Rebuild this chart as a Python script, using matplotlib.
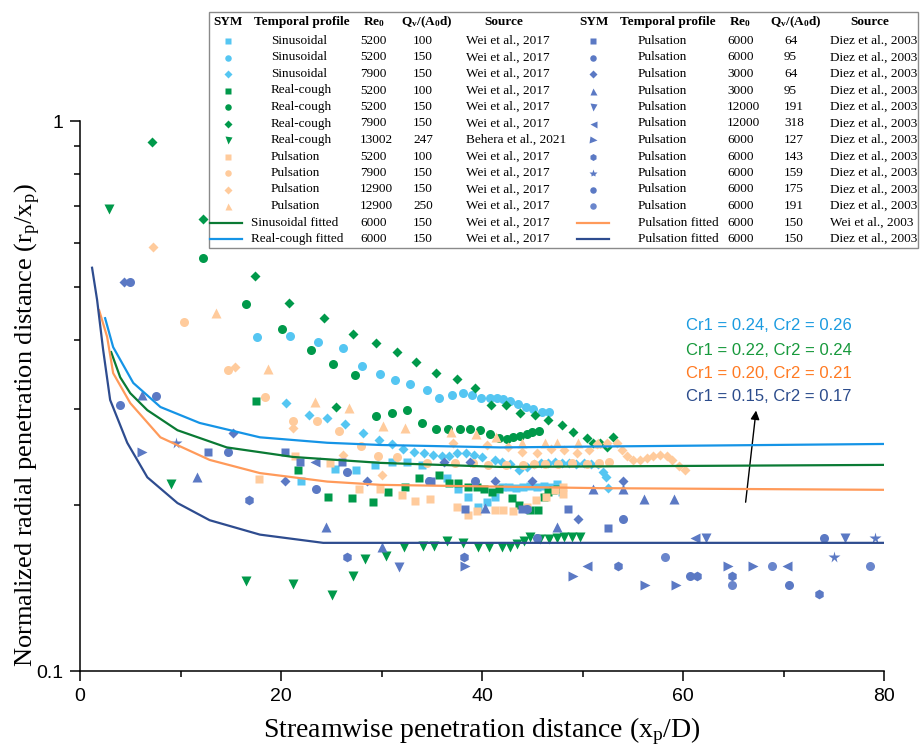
import matplotlib
matplotlib.use('Agg')
import matplotlib.pyplot as plt
from matplotlib.patches import Rectangle
from matplotlib.ticker import MultipleLocator, LogLocator, NullFormatter, FixedLocator, FixedFormatter

plt.rcParams['font.family'] = 'Liberation Sans'
plt.rcParams['mathtext.fontset'] = 'custom'
plt.rcParams['mathtext.rm'] = 'Liberation Serif'
plt.rcParams['mathtext.it'] = 'Liberation Serif:italic'
plt.rcParams['mathtext.bf'] = 'Liberation Serif:bold'

# ---- colours
c_sin = '#55C6F2'
c_rc = '#00994A'
c_pw = '#FFCB9C'
c_dz = '#5B79C4'

# ---- Wei et al. 2017, sinusoidal
sin_sq_x = [22.0, 25.4, 27.5, 29.4, 31.0, 32.5, 34.0, 36.5, 37.6, 38.6, 39.6, 40.5, 41.3, 42.0, 42.7, 43.4, 44.1, 44.8, 45.5, 46.2, 46.9, 47.5, 48.0]
sin_sq_y = [0.222, 0.233, 0.232, 0.237, 0.240, 0.240, 0.237, 0.224, 0.214, 0.207, 0.199, 0.203, 0.207, 0.216, 0.216, 0.215, 0.216, 0.217, 0.216, 0.217, 0.216, 0.219, 0.212]
sin_ci_x = [17.6, 20.9, 23.7, 26.2, 28.1, 29.9, 31.3, 32.8, 34.5, 35.7, 37.0, 38.1, 39.0, 39.9, 40.8, 41.5, 42.1, 42.8, 43.6, 44.4, 45.1, 46.0, 46.7]
sin_ci_y = [0.405, 0.407, 0.396, 0.387, 0.359, 0.347, 0.338, 0.332, 0.324, 0.314, 0.317, 0.320, 0.317, 0.314, 0.314, 0.313, 0.312, 0.310, 0.306, 0.302, 0.300, 0.296, 0.296]
sin_di_x = [20.5, 22.8, 24.6, 26.4, 28.2, 29.8, 31.0, 32.1, 33.2, 34.2, 35.1, 36.0, 36.7, 37.5, 38.4, 39.2, 40.0, 41.3, 42.0, 42.8, 43.7, 44.5, 45.2, 45.9, 46.6, 47.3, 48.0, 48.7, 49.4, 50.1, 50.8, 51.5, 52.0, 52.3, 52.5]
sin_di_y = [0.307, 0.292, 0.288, 0.281, 0.271, 0.263, 0.259, 0.253, 0.250, 0.249, 0.247, 0.246, 0.246, 0.249, 0.249, 0.247, 0.245, 0.242, 0.240, 0.238, 0.232, 0.235, 0.238, 0.239, 0.239, 0.240, 0.239, 0.239, 0.238, 0.239, 0.238, 0.238, 0.230, 0.225, 0.215]

# ---- real cough
rc_sq_x = [17.5, 21.7, 24.7, 27.1, 29.2, 30.6, 32.3, 33.7, 35.7, 36.7, 37.6, 38.6, 39.5, 40.2, 41.0, 41.7, 43.0, 43.7, 44.8, 45.6, 46.2, 46.6, 47.1, 47.5]
rc_sq_y = [0.310, 0.232, 0.207, 0.206, 0.203, 0.212, 0.216, 0.224, 0.227, 0.220, 0.220, 0.216, 0.216, 0.214, 0.212, 0.214, 0.206, 0.200, 0.196, 0.196, 0.207, 0.212, 0.213, 0.214]
rc_ci_x = [12.2, 16.5, 20.1, 23.0, 25.2, 27.4, 29.5, 31.0, 32.5, 34.0, 35.4, 36.6, 37.8, 38.8, 39.8, 40.8, 41.7, 42.5, 43.1, 43.8, 44.5, 45.0, 45.7]
rc_ci_y = [0.563, 0.465, 0.419, 0.383, 0.362, 0.345, 0.291, 0.294, 0.298, 0.283, 0.275, 0.275, 0.275, 0.275, 0.274, 0.270, 0.265, 0.264, 0.266, 0.267, 0.270, 0.272, 0.273]
rc_di_x = [7.2, 12.2, 17.4, 20.8, 24.3, 25.5, 27.2, 29.5, 31.5, 33.4, 35.4, 37.5, 39.3, 40.9, 42.4, 43.8, 45.3, 46.6, 48.0, 49.1, 50.4, 51.0, 51.7, 52.4, 53.0]
rc_di_y = [0.916, 0.664, 0.523, 0.467, 0.438, 0.302, 0.410, 0.395, 0.380, 0.365, 0.348, 0.340, 0.327, 0.305, 0.305, 0.294, 0.292, 0.286, 0.280, 0.272, 0.265, 0.260, 0.260, 0.255, 0.266]
rc_tri_x = [2.9, 9.1, 16.5, 21.2, 25.1, 27.2, 28.4, 30.4, 32.2, 34.1, 35.2, 36.5, 38.1, 39.6, 40.7, 42.0, 42.8, 43.5, 44.2, 44.8, 45.8, 46.7, 47.5, 48.2, 49.0, 49.8]
rc_tri_y = [0.692, 0.219, 0.146, 0.144, 0.1375, 0.149, 0.160, 0.162, 0.168, 0.169, 0.169, 0.172, 0.171, 0.168, 0.168, 0.168, 0.168, 0.170, 0.172, 0.1755, 0.1735, 0.174, 0.1745, 0.1755, 0.1755, 0.1755]

# ---- pulsation, Wei et al.
pw_sq_x = [17.8, 21.4, 24.9, 27.8, 29.9, 32.0, 33.3, 34.8, 37.5, 38.6, 39.5, 41.3, 42.1, 43.1, 44.5, 45.4, 46.4, 47.3, 48.1, 48.1]
pw_sq_y = [0.2235, 0.246, 0.239, 0.214, 0.214, 0.209, 0.204, 0.2055, 0.199, 0.1925, 0.195, 0.196, 0.196, 0.195, 0.199, 0.2046, 0.207, 0.2137, 0.2163, 0.210]
pw_ci_x = [10.3, 14.7, 18.4, 21.2, 23.6, 25.8, 28.0, 29.7, 31.5, 34.5, 37.3, 39.1, 40.6, 42.4, 44.1, 45.2, 46.3, 47.6, 49.0, 50.4, 51.6, 52.6]
pw_ci_y = [0.431, 0.352, 0.315, 0.285, 0.285, 0.273, 0.256, 0.246, 0.245, 0.239, 0.239, 0.239, 0.237, 0.237, 0.237, 0.238, 0.238, 0.238, 0.239, 0.238, 0.239, 0.240]
pw_di_x = [7.3, 15.4, 21.2, 26.2, 30.0, 37.1, 40.5, 42.6, 44.0, 45.5, 46.9, 48.2, 49.5, 50.6, 51.4, 52.4, 53.4, 53.9, 54.4, 55.0, 55.7, 56.4, 57.0, 57.7, 58.4, 58.9, 59.6, 60.2]
pw_di_y = [0.590, 0.357, 0.277, 0.247, 0.227, 0.260, 0.258, 0.255, 0.250, 0.249, 0.253, 0.252, 0.249, 0.252, 0.259, 0.260, 0.260, 0.252, 0.246, 0.242, 0.242, 0.244, 0.246, 0.247, 0.246, 0.242, 0.236, 0.2315]
pw_tri_x = [13.5, 18.7, 23.4, 26.8, 30.1, 32.3, 36.9, 39.4, 41.4, 44.0, 46.3, 47.5, 49.6, 51.5]
pw_tri_y = [0.447, 0.354, 0.309, 0.301, 0.279, 0.277, 0.272, 0.270, 0.266, 0.260, 0.260, 0.260, 0.260, 0.260]

# ---- pulsation, Diez et al. 2003
dz_sq_x = [12.7, 20.4, 21.9, 26.1, 34.9, 38.3, 44.0, 48.6, 52.5]
dz_sq_y = [0.250, 0.250, 0.240, 0.240, 0.2215, 0.197, 0.197, 0.197, 0.182]
dz_ci_x = [4.0, 7.6, 14.7, 23.5, 26.6, 34.7, 39.3, 44.5, 54.0]
dz_ci_y = [0.305, 0.316, 0.250, 0.214, 0.230, 0.2215, 0.2215, 0.197, 0.189]
dz_di_x = [4.4, 15.2, 20.4, 28.6, 36.2, 38.8, 41.3, 45.0, 49.6, 54.0]
dz_di_y = [0.51, 0.271, 0.2215, 0.2215, 0.240, 0.240, 0.2215, 0.2215, 0.189, 0.2215]
dz_tu_x = [6.2, 11.6, 24.5, 30.0, 40.3, 47.5, 51.0, 54.0, 56.1, 59.1]
dz_tu_y = [0.3175, 0.2253, 0.1827, 0.168, 0.198, 0.1827, 0.2143, 0.2143, 0.2055, 0.2055]
dz_td_x = [31.7, 62.3, 76.1]
dz_td_y = [0.1546, 0.1745, 0.1745]
dz_tl_x = [23.4, 50.4, 61.2, 70.3]
dz_tl_y = [0.240, 0.155, 0.1745, 0.155]
dz_tr_x = [6.2, 38.3, 49.1, 56.2, 59.3, 64.5, 67.0]
dz_tr_y = [0.2503, 0.155, 0.1488, 0.1434, 0.1434, 0.155, 0.155]
dz_hx_x = [16.8, 26.6, 38.2, 53.5, 61.4, 64.9, 73.5]
dz_hx_y = [0.2046, 0.161, 0.161, 0.155, 0.1488, 0.1488, 0.138]
dz_st_x = [9.6, 75.0, 79.1]
dz_st_y = [0.260, 0.161, 0.1745]
dz_c175_x = [5.0, 45.5, 60.7, 70.5, 74.0]
dz_c175_y = [0.51, 0.1745, 0.1488, 0.1434, 0.1745]
dz_c191_x = [58.2, 64.9, 68.9, 78.6]
dz_c191_y = [0.161, 0.1434, 0.155, 0.155]

# ---- fitted curves
fit_sin_x = [3.1, 4.0, 5.0, 6.7, 9.7, 14.6, 21.2, 29.9, 41.8, 80]
fit_sin_y = [0.380, 0.342, 0.320, 0.298, 0.274, 0.255, 0.245, 0.239, 0.235, 0.237]
fit_rc_x = [2.5, 3.3, 5.3, 8.0, 11.9, 17.9, 24.6, 29.9, 41.8, 80]
fit_rc_y = [0.438, 0.388, 0.334, 0.302, 0.2825, 0.266, 0.260, 0.2576, 0.255, 0.2587]
fit_pw_x = [1.9, 2.7, 3.3, 5.0, 8.0, 12.9, 17.9, 24.6, 29.9, 51.7, 80]
fit_pw_y = [0.453, 0.405, 0.348, 0.307, 0.266, 0.242, 0.229, 0.221, 0.218, 0.215, 0.2135]
fit_dz_x = [1.2, 1.7, 2.3, 3.0, 4.7, 6.7, 9.7, 12.9, 17.9, 24.2, 80]
fit_dz_y = [0.541, 0.473, 0.384, 0.311, 0.260, 0.225, 0.202, 0.188, 0.177, 0.171, 0.171]

cr_labels = ['Cr1 = 0.24, Cr2 = 0.26', 'Cr1 = 0.22, Cr2 = 0.24',
             'Cr1 = 0.20, Cr2 = 0.21', 'Cr1 = 0.15, Cr2 = 0.17']
cr_y = [0.424, 0.383, 0.348, 0.315]
cr_colors = ['#1B9BE0', '#17993C', '#FF7A22', '#2C4C8C']

# ---- table contents
left_prof = ['Sinusoidal', 'Sinusoidal', 'Sinusoidal', 'Real-cough', 'Real-cough', 'Real-cough', 'Real-cough',
             'Pulsation', 'Pulsation', 'Pulsation', 'Pulsation', 'Sinusoidal fitted', 'Real-cough fitted']
left_re = ['5200', '5200', '7900', '5200', '5200', '7900', '13002', '5200', '7900', '12900', '12900', '6000', '6000']
left_q = ['100', '150', '150', '100', '150', '150', '247', '100', '150', '150', '250', '150', '150']
left_src = ['Wei et al., 2017'] * 6 + ['Behera et al., 2021'] + ['Wei et al., 2017'] * 6
right_prof = ['Pulsation'] * 11 + ['Pulsation fitted', 'Pulsation fitted']
right_re = ['6000', '6000', '3000', '3000', '12000', '12000', '6000', '6000', '6000', '6000', '6000', '6000', '6000']
right_q = ['64', '95', '64', '95', '191', '318', '127', '143', '159', '175', '191', '150', '150']
right_src = ['Diez et al., 2003'] * 11 + ['Wei et al., 2003', 'Diez et al., 2003']

ms = {'s': 6, 'o': 6.5, 'D': 5.2, 'v': 7, '^': 7, '<': 7, '>': 7, 'h': 7, '*': 8.5}
left_series = [
    (sin_sq_x, sin_sq_y, 's', c_sin), (sin_ci_x, sin_ci_y, 'o', c_sin), (sin_di_x, sin_di_y, 'D', c_sin),
    (rc_sq_x, rc_sq_y, 's', c_rc), (rc_ci_x, rc_ci_y, 'o', c_rc), (rc_di_x, rc_di_y, 'D', c_rc),
    (rc_tri_x, rc_tri_y, 'v', c_rc),
    (pw_sq_x, pw_sq_y, 's', c_pw), (pw_ci_x, pw_ci_y, 'o', c_pw), (pw_di_x, pw_di_y, 'D', c_pw),
    (pw_tri_x, pw_tri_y, '^', c_pw)]
right_series = [
    (dz_sq_x, dz_sq_y, 's', c_dz), (dz_ci_x, dz_ci_y, 'o', c_dz), (dz_di_x, dz_di_y, 'D', c_dz),
    (dz_tu_x, dz_tu_y, '^', c_dz), (dz_td_x, dz_td_y, 'v', c_dz), (dz_tl_x, dz_tl_y, '<', c_dz),
    (dz_tr_x, dz_tr_y, '>', c_dz), (dz_hx_x, dz_hx_y, 'h', c_dz), (dz_st_x, dz_st_y, '*', c_dz),
    (dz_c175_x, dz_c175_y, 'o', c_dz), (dz_c191_x, dz_c191_y, 'o', '#6A86CC')]
fits = [(fit_sin_x, fit_sin_y, '#0A7A34'), (fit_rc_x, fit_rc_y, '#1594E6'),
        (fit_pw_x, fit_pw_y, '#FF9A5A'), (fit_dz_x, fit_dz_y, '#2E4C8F')]

fig = plt.figure(figsize=(9.21, 7.55), dpi=100)
ax = fig.add_axes([80 / 921, 1 - 671 / 755, 804 / 921, 550 / 755])

for xs, ys, mk, col in left_series + right_series:
    ax.plot(xs, ys, linestyle='none', marker=mk, ms=ms[mk], color=col, mec='none', zorder=3)

for xs, ys, col in fits:
    ax.plot(xs, ys, color=col, lw=1.6, zorder=4)

for lab, yy, col in zip(cr_labels, cr_y, cr_colors):
    ax.text(60.3, yy, lab, color=col, fontsize=12, ha='left', va='center')
ax.annotate('', xy=(67.3, 0.301), xytext=(66.2, 0.2004),
            arrowprops=dict(arrowstyle='-|>', color='black', lw=1, mutation_scale=13))

ax.set_yscale('log')
ax.set_xlim(0, 80)
ax.set_ylim(0.1, 1)
ax.xaxis.set_major_locator(MultipleLocator(20))
ax.xaxis.set_minor_locator(MultipleLocator(10))
ax.yaxis.set_major_locator(FixedLocator([0.1, 1]))
ax.yaxis.set_major_formatter(FixedFormatter(['0.1', '1']))
ax.yaxis.set_minor_locator(LogLocator(base=10, subs=range(2, 10)))
ax.yaxis.set_minor_formatter(NullFormatter())
ax.spines['top'].set_visible(False)
ax.spines['right'].set_visible(False)
for s in ['left', 'bottom']:
    ax.spines[s].set_linewidth(1.1)
ax.tick_params(which='major', direction='out', length=7, width=1.1, labelsize=14, pad=5)
ax.tick_params(which='minor', direction='out', length=4, width=1.1)

fig.text(482 / 921, 1 - 737 / 755, r'Streamwise penetration distance (x$\mathregular{_p}$/D)',
         family='Liberation Serif', fontsize=20, ha='center', va='baseline')
fig.text(28 / 921, 1 - 425 / 755, r'Normalized radial penetration distance (r$\mathregular{_p}$/x$\mathregular{_p}$)',
         family='Liberation Serif', fontsize=19, ha='center', va='center', rotation=90)

# ---- table (overlay in pixel units)
tax = fig.add_axes([0, 0, 1, 1], zorder=5)
tax.set_xlim(0, 921)
tax.set_ylim(755, 0)
tax.axis('off')
tax.add_patch(Rectangle((209, 12), 709, 236, facecolor='white', edgecolor='#8A8A8A', lw=1))

tfont = dict(family='Liberation Serif', fontsize=9.5, va='center')
hdr = dict(family='Liberation Serif', fontsize=9.5, va='center', ha='center', fontweight='bold')
head_y = 22
rows_y = [41 + 16.5 * i for i in range(13)]
for cols in [(228, 302, 374, 427, 504), (594, 668, 740, 796, 870)]:
    tax.text(cols[0], head_y, 'SYM', **hdr)
    tax.text(cols[1], head_y, 'Temporal profile', **hdr)
    tax.text(cols[2], head_y, r'Re$\mathregular{_0}$', **hdr)
    tax.text(cols[3], head_y, r'Q$\mathregular{_v}$/(A$\mathregular{_0}$d)', **hdr)
    tax.text(cols[4], head_y, 'Source', **hdr)

for i, (p, r, q, s) in enumerate(zip(left_prof, left_re, left_q, left_src)):
    y = rows_y[i]
    if i < 11:
        xs, ys, mk, col = left_series[i]
        tax.plot(228, y, marker=mk, ms=ms[mk] * 0.72, color=col, mec='none')
        tax.text(271, y, p, ha='left', **tfont)
    else:
        tax.plot([210, 242], [y, y], color=fits[i - 11][2], lw=1.6)
        tax.text(251, y, p, ha='left', **tfont)
    tax.text(360, y, r, ha='left', **tfont)
    tax.text(413, y, q, ha='left', **tfont)
    tax.text(466, y, s, ha='left', **tfont)

for i, (p, r, q, s) in enumerate(zip(right_prof, right_re, right_q, right_src)):
    y = rows_y[i]
    if i < 11:
        xs, ys, mk, col = right_series[i]
        tax.plot(593, y, marker=mk, ms=ms[mk] * 0.72, color=col, mec='none')
    else:
        tax.plot([577, 609], [y, y], color=fits[i - 9][2], lw=1.6)
    tax.text(638, y, p, ha='left', **tfont)
    tax.text(727, y, r, ha='left', **tfont)
    tax.text(784, y, q, ha='left', **tfont)
    tax.text(830, y, s, ha='left', **tfont)

plt.savefig('out.png', dpi=100)
